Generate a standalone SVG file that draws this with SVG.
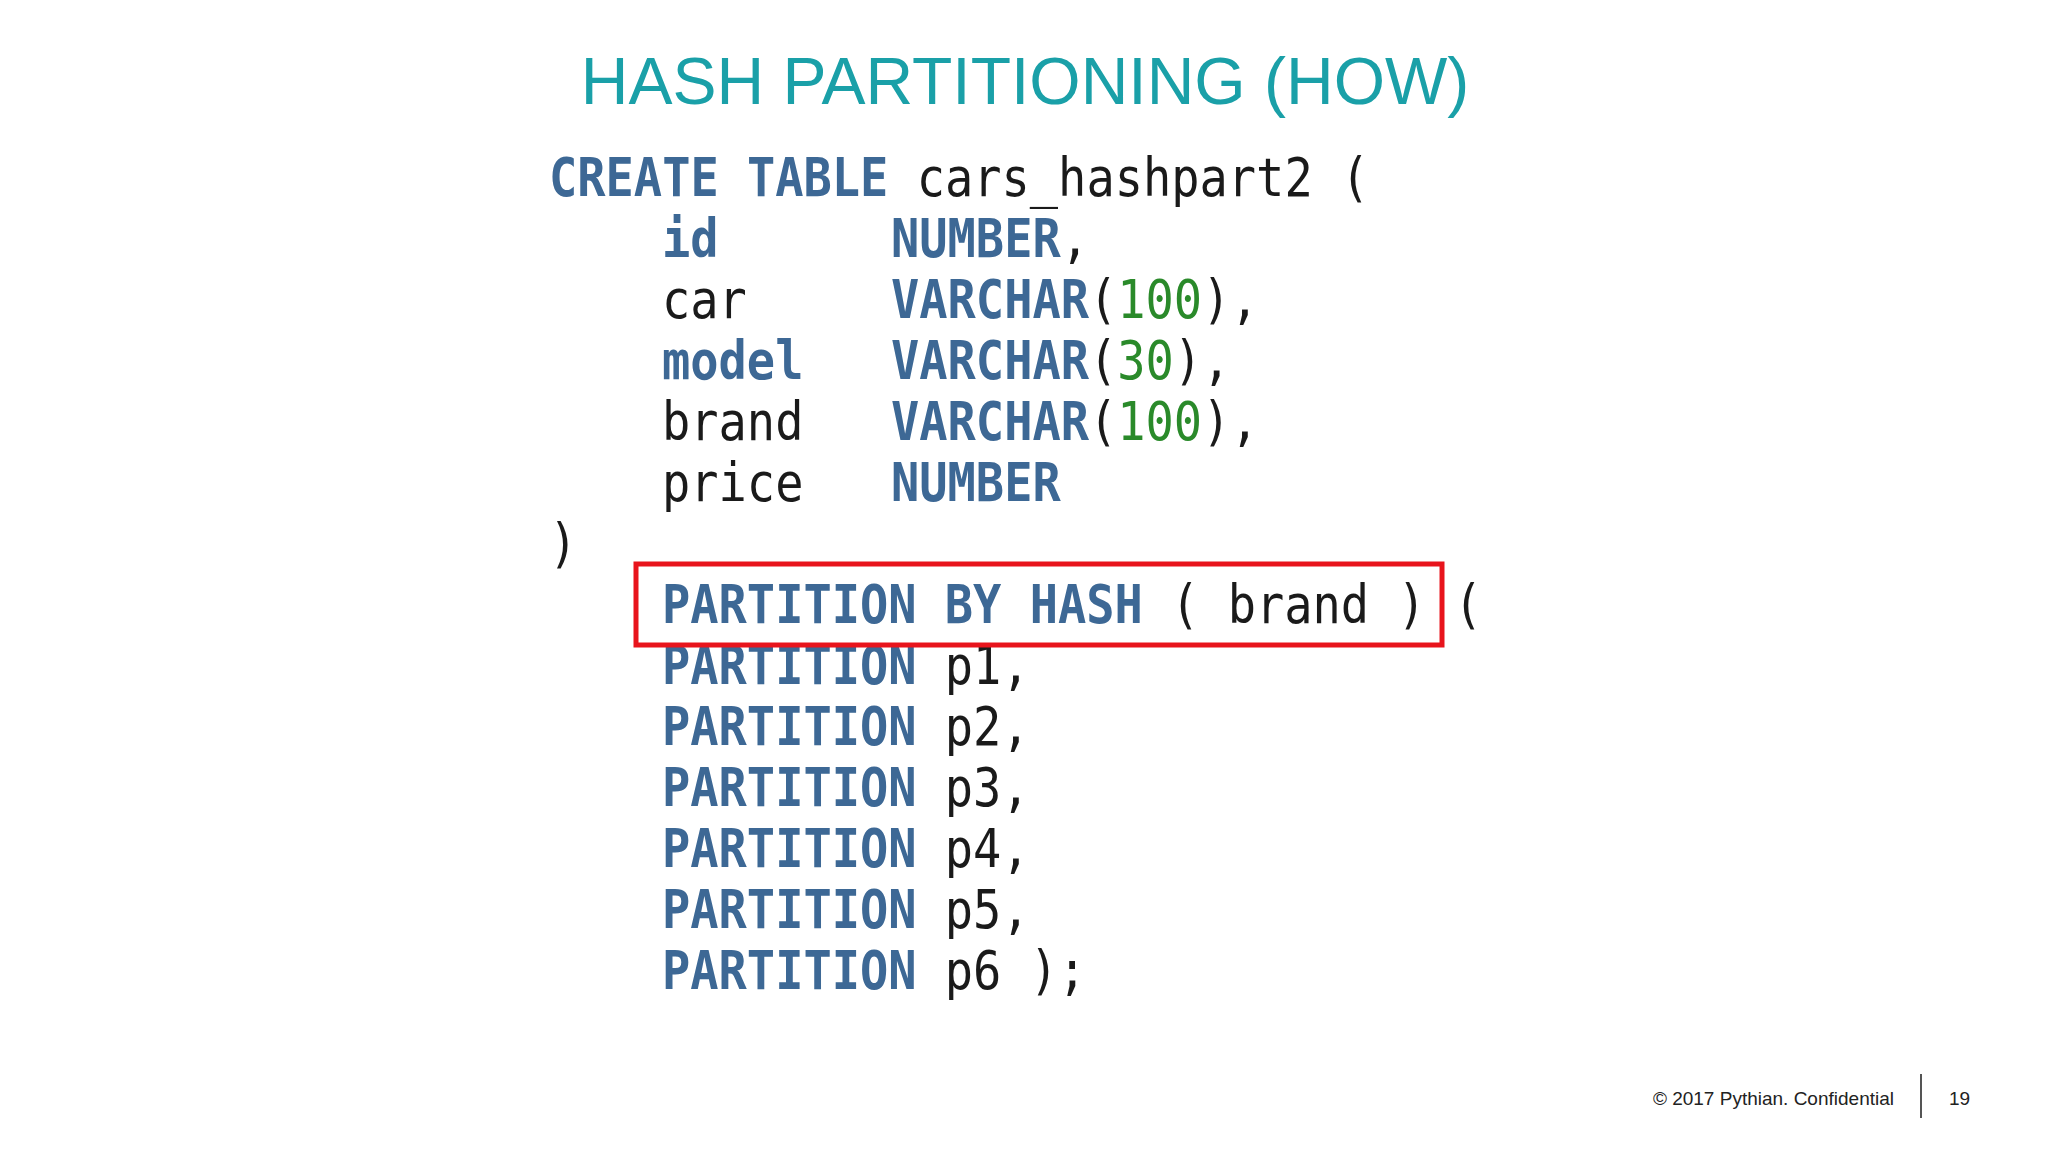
<svg xmlns="http://www.w3.org/2000/svg" width="2048" height="1152" viewBox="0 0 2048 1152">
<style>
.c{font-family:"DejaVu Sans Mono","Liberation Mono",monospace;font-size:47px;fill:#1a1a1a;white-space:pre}
.k{fill:#3d6895;font-weight:bold}
.n{fill:#2a8a2a}
.f{font-family:"Liberation Sans",Arial,sans-serif;font-size:19px;fill:#222}
</style>
<rect width="2048" height="1152" fill="#fff"/>
<text x="1025" y="104" text-anchor="middle" font-family="Liberation Sans,Arial,sans-serif" font-size="66" fill="#1aa0a8">HASH PARTITIONING (HOW)</text>
<g id="code">
<g transform="translate(549,196) scale(1,1.15)"><text class="c"><tspan class="k">CREATE TABLE</tspan> cars_hashpart2 (</text></g>
<g transform="translate(662,257) scale(1,1.15)"><text class="c"><tspan class="k">id</tspan></text></g>
<g transform="translate(891,257) scale(1,1.15)"><text class="c"><tspan class="k">NUMBER</tspan>,</text></g>
<g transform="translate(662,318) scale(1,1.15)"><text class="c">car</text></g>
<g transform="translate(891,318) scale(1,1.15)"><text class="c"><tspan class="k">VARCHAR</tspan>(<tspan class="n">100</tspan>),</text></g>
<g transform="translate(662,379) scale(1,1.15)"><text class="c"><tspan class="k">model</tspan></text></g>
<g transform="translate(891,379) scale(1,1.15)"><text class="c"><tspan class="k">VARCHAR</tspan>(<tspan class="n">30</tspan>),</text></g>
<g transform="translate(662,440) scale(1,1.15)"><text class="c">brand</text></g>
<g transform="translate(891,440) scale(1,1.15)"><text class="c"><tspan class="k">VARCHAR</tspan>(<tspan class="n">100</tspan>),</text></g>
<g transform="translate(662,501) scale(1,1.15)"><text class="c">price</text></g>
<g transform="translate(891,501) scale(1,1.15)"><text class="c"><tspan class="k">NUMBER</tspan></text></g>
<g transform="translate(549,562) scale(1,1.15)"><text class="c">)</text></g>
<g transform="translate(662,623) scale(1,1.15)"><text class="c"><tspan class="k">PARTITION BY HASH</tspan> ( brand ) (</text></g>
<g transform="translate(662,684) scale(1,1.15)"><text class="c"><tspan class="k">PARTITION</tspan> p1,</text></g>
<g transform="translate(662,745) scale(1,1.15)"><text class="c"><tspan class="k">PARTITION</tspan> p2,</text></g>
<g transform="translate(662,806) scale(1,1.15)"><text class="c"><tspan class="k">PARTITION</tspan> p3,</text></g>
<g transform="translate(662,867) scale(1,1.15)"><text class="c"><tspan class="k">PARTITION</tspan> p4,</text></g>
<g transform="translate(662,928) scale(1,1.15)"><text class="c"><tspan class="k">PARTITION</tspan> p5,</text></g>
<g transform="translate(662,989) scale(1,1.15)"><text class="c"><tspan class="k">PARTITION</tspan> p6 );</text></g>
</g>
<rect id="highlight" x="636" y="564" width="806" height="81" fill="none" stroke="#e8141c" stroke-width="5"/>
<g id="footer">
<text class="f" x="1894" y="1105" text-anchor="end">© 2017 Pythian. Confidential</text>
<line x1="1921" y1="1074" x2="1921" y2="1118" stroke="#555" stroke-width="2"/>
<text class="f" x="1949" y="1105">19</text>
</g>
</svg>
